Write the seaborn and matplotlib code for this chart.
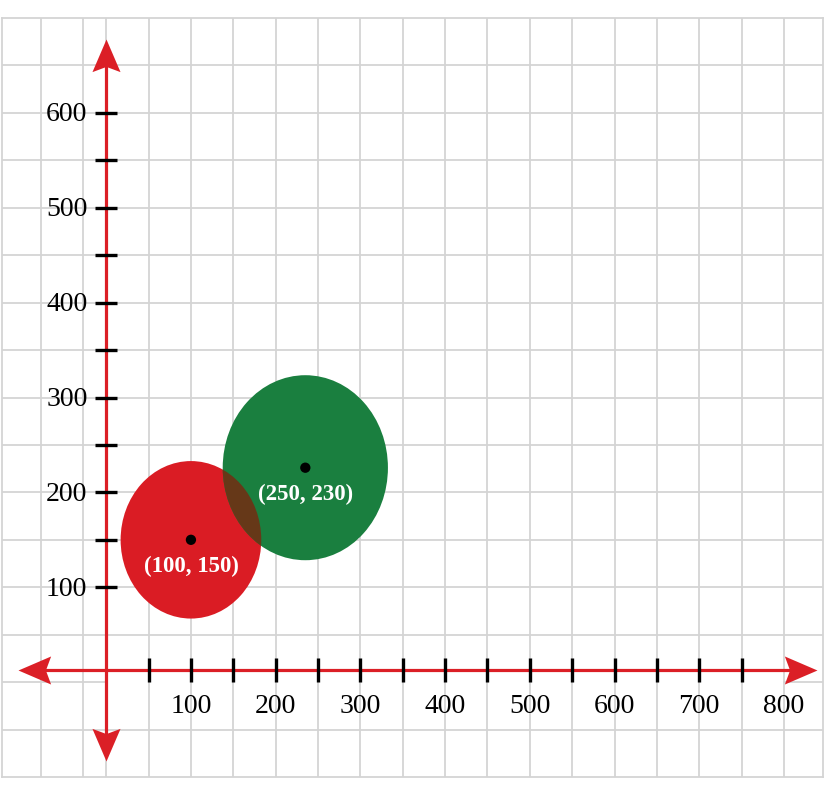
import numpy as np
import pandas as pd
import matplotlib
matplotlib.use("Agg")
import matplotlib.pyplot as plt
from matplotlib.patches import Circle
from matplotlib.path import Path
import seaborn as sns

# ---- data ----
point_names = ["(100, 150)", "(250, 230)"]
center_x = [100, 235]
center_y = [150, 226]
radii = [83, 97.5]
fill_colors = ["#DA1C24", "#1A7F3F"]
overlap_color = "#663818"

x_tick_positions = list(range(50, 800, 50))
x_tick_labels = [100, 200, 300, 400, 500, 600, 700, 800]
y_tick_positions = list(range(100, 650, 50))
y_tick_labels = [100, 200, 300, 400, 500, 600]

grid_x = [-77, -27, 0] + list(range(50, 850, 50))
grid_y = list(range(-50, 700, 50))

x_limits = (-123, 846)
y_limits = (-100, 700)
x_axis_level = 12.6
x_arrow_ends = (-104, 839)
y_arrow_ends = (-83, 678)

AXIS_RED = "#DB1F26"
GRID = "#D4D4D4"
SERIF = ["Liberation Serif", "DejaVu Serif"]

sns.set_style("white")

W, H = 837, 799
fig = plt.figure(figsize=(W / 100, H / 100), dpi=100)
ax = fig.add_axes([2 / W, 22 / H, 821 / W, 759 / H])
ax.set_xlim(*x_limits)
ax.set_ylim(*y_limits)
for s in ax.spines.values():
    s.set_color(GRID)
    s.set_linewidth(1.3)
ax.set_xticks([])
ax.set_yticks([])

# grid
for gx in grid_x:
    ax.axvline(gx, color=GRID, lw=1.3, zorder=0)
for gy in grid_y:
    if gy == 0:
        ax.plot([x_limits[0], 0], [0, 0], color=GRID, lw=1.3, zorder=0)
        ax.plot([800, x_limits[1]], [0, 0], color=GRID, lw=1.3, zorder=0)
    else:
        ax.axhline(gy, color=GRID, lw=1.3, zorder=0)

# circles
patches = []
for cx, cy, r, c in zip(center_x, center_y, radii, fill_colors):
    p = Circle((cx, cy), r, facecolor=c, edgecolor="none", zorder=2)
    ax.add_patch(p)
    patches.append(p)
ov = Circle((center_x[1], center_y[1]), radii[1], facecolor=overlap_color,
            edgecolor="none", zorder=3)
ax.add_patch(ov)
ov.set_clip_path(patches[0])

# axes lines
ax.plot([x_arrow_ends[0] + 15, x_arrow_ends[1] - 15], [x_axis_level, x_axis_level],
        color=AXIS_RED, lw=2.3, zorder=4, solid_capstyle="butt")
ax.plot([0, 0], [y_arrow_ends[0] + 15, y_arrow_ends[1] - 15],
        color=AXIS_RED, lw=2.3, zorder=4, solid_capstyle="butt")


def head(angle_deg):
    verts = np.array([[0, 0], [-1, 0.43], [-0.84, 0], [-1, -0.43], [0, 0]])
    a = np.deg2rad(angle_deg)
    rot = np.array([[np.cos(a), -np.sin(a)], [np.sin(a), np.cos(a)]])
    v = verts @ rot.T
    return Path(v, [Path.MOVETO, Path.LINETO, Path.LINETO, Path.LINETO, Path.CLOSEPOLY])


ms = 47
ax.plot(x_arrow_ends[1], x_axis_level, marker=head(0), ms=ms, color=AXIS_RED, mew=0, zorder=5)
ax.plot(x_arrow_ends[0], x_axis_level, marker=head(180), ms=ms, color=AXIS_RED, mew=0, zorder=5)
ax.plot(0, y_arrow_ends[1], marker=head(90), ms=ms, color=AXIS_RED, mew=0, zorder=5)
ax.plot(0, y_arrow_ends[0], marker=head(270), ms=ms, color=AXIS_RED, mew=0, zorder=5)

# tick marks
ax.plot(x_tick_positions, [x_axis_level] * len(x_tick_positions), ls="none",
        marker="|", ms=17, mew=2.4, color="black", zorder=6)
ax.plot([0] * len(y_tick_positions), y_tick_positions, ls="none",
        marker="_", ms=16, mew=2.4, color="black", zorder=6)

# tick labels
for v in x_tick_labels:
    ax.annotate(str(v), xy=(v, x_axis_level), xytext=(0, -26), textcoords="offset points",
                ha="center", va="center", fontsize=20, family=SERIF, color="black", zorder=6)
for v in y_tick_labels:
    ax.annotate(str(v), xy=(0, v), xytext=(-13.5, -1.5), textcoords="offset points",
                ha="right", va="center", fontsize=20, family=SERIF, color="black", zorder=6)

# centers
df = pd.DataFrame({"x": center_x, "y": center_y, "name": point_names})
sns.scatterplot(data=df, x="x", y="y", color="black", s=55, edgecolor="none",
                ax=ax, zorder=7, legend=False)
for _, row in df.iterrows():
    ax.annotate(row["name"], xy=(row["x"], row["y"]), xytext=(0, -19),
                textcoords="offset points", ha="center", va="center",
                fontsize=16.5, fontweight="bold", family=SERIF, color="white", zorder=8)

ax.set_xlabel("")
ax.set_ylabel("")
ax.set_xticks([])
ax.set_yticks([])
fig.savefig("out.png", dpi=100, facecolor="white")
